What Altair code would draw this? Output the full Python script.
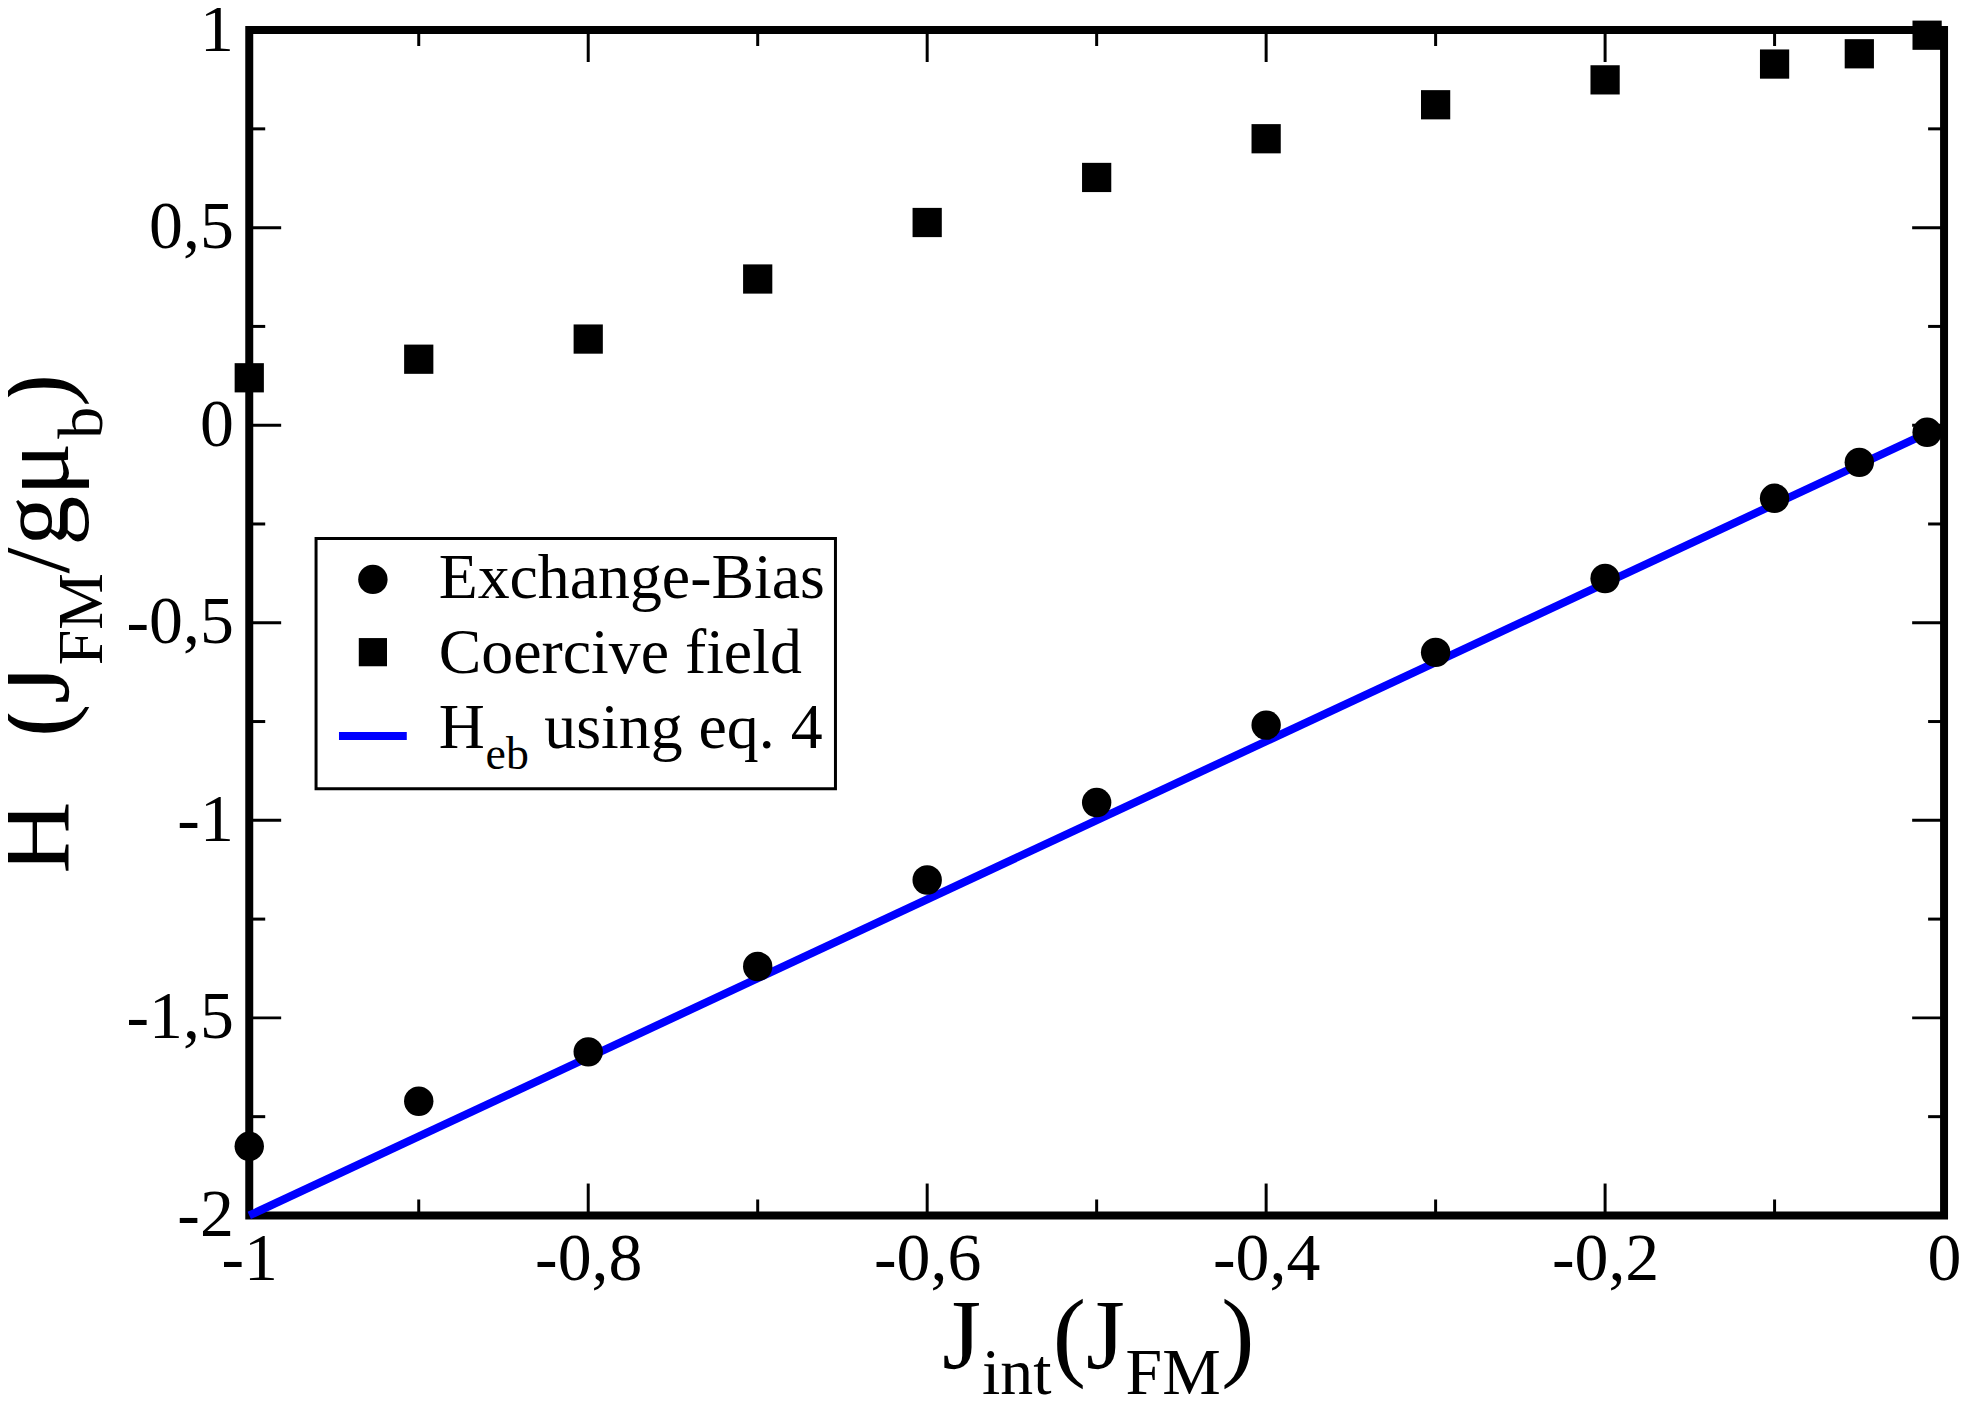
import altair as alt
import pandas as pd

# ---------------- data ----------------
j_int = [-1, -0.9, -0.8, -0.7, -0.6, -0.5, -0.4, -0.3, -0.2, -0.1, -0.05, -0.01]
exchange_bias = [-1.825, -1.711, -1.586, -1.370, -1.151, -0.955, -0.759, -0.575,
                 -0.388, -0.185, -0.094, -0.018]
coercive = [0.120, 0.167, 0.218, 0.370, 0.513, 0.627, 0.725, 0.811, 0.874,
            0.914, 0.940, 0.987]
fit_x = [-1.0, -0.01]
fit_y = [-2.0, -0.02]

x_major = [-1, -0.8, -0.6, -0.4, -0.2, 0]
x_minor = [-0.9, -0.7, -0.5, -0.3, -0.1]
y_major = [-2, -1.5, -1, -0.5, 0, 0.5, 1]
y_minor = [-1.75, -1.25, -0.75, -0.25, 0.25, 0.75]

FONT = "Liberation Serif"
W, H = 1700, 1189
MAJ, MIN = 32, 16

xscale = alt.Scale(domain=[-1, 0], nice=False, zero=False)
yscale = alt.Scale(domain=[-2, 1], nice=False, zero=False)
lab = "replace(toString(datum.value), '.', ',')"
xaxis = alt.Axis(values=x_major, labelExpr=lab, domain=False, ticks=False, grid=False,
                 title=None, labelFont=FONT, labelFontSize=68, labelPadding=10,
                 labelFlush=False, labelOverlap=False, labelColor="black")
yaxis = alt.Axis(values=y_major, labelExpr=lab, domain=False, ticks=False, grid=False,
                 title=None, labelFont=FONT, labelFontSize=68, labelPadding=16,
                 labelFlush=False, labelOverlap=False, labelColor="black")


def X(field):
    return alt.X(field, type="quantitative", scale=xscale, axis=xaxis)


def Y(field):
    return alt.Y(field, type="quantitative", scale=yscale, axis=yaxis)


df = pd.DataFrame({"x": j_int, "eb": exchange_bias, "hc": coercive})
fit = pd.DataFrame({"x": fit_x, "y": fit_y})

layers = []

# ticks (inside, on all four sides)
for vals, ln in ((y_major, MAJ), (y_minor, MIN)):
    d = pd.DataFrame({"v": vals})
    layers.append(alt.Chart(d).mark_rule(color="black", strokeWidth=3).encode(
        y=Y("v"), x=alt.value(0), x2=alt.value(ln)))
    layers.append(alt.Chart(d).mark_rule(color="black", strokeWidth=3).encode(
        y=Y("v"), x=alt.value(W - ln), x2=alt.value(W)))
for vals, ln in ((x_major, MAJ), (x_minor, MIN)):
    d = pd.DataFrame({"v": vals})
    layers.append(alt.Chart(d).mark_rule(color="black", strokeWidth=3).encode(
        x=X("v"), y=alt.value(H - ln), y2=alt.value(H)))
    layers.append(alt.Chart(d).mark_rule(color="black", strokeWidth=3).encode(
        x=X("v"), y=alt.value(0), y2=alt.value(ln)))

# fitted line
layers.append(alt.Chart(fit).mark_line(color="#0000ff", strokeWidth=8).encode(
    x=X("x"), y=Y("y")))
# exchange bias circles
layers.append(alt.Chart(df).mark_point(shape="circle", filled=True, color="black",
                                       opacity=1, size=870).encode(x=X("x"), y=Y("eb")))
# coercive field squares
layers.append(alt.Chart(df).mark_point(shape="square", filled=True, color="black",
                                       opacity=1, size=860).encode(x=X("x"), y=Y("hc")))


def txt(s, x, y, size, angle=0):
    return alt.Chart(pd.DataFrame({"t": [s]})).mark_text(
        align="left", baseline="alphabetic", font=FONT, fontSize=size,
        angle=angle, color="black").encode(x=alt.value(x), y=alt.value(y), text="t:N")


one = pd.DataFrame({"k": [0]})
# legend box
layers.append(alt.Chart(one).mark_rect(fill="white", stroke="black", strokeWidth=3).encode(
    x=alt.value(67), x2=alt.value(588), y=alt.value(510), y2=alt.value(761)))
layers.append(alt.Chart(one).mark_point(shape="circle", filled=True, color="black",
                                        opacity=1, size=870).encode(
    x=alt.value(124), y=alt.value(551)))
layers.append(alt.Chart(one).mark_point(shape="square", filled=True, color="black",
                                        opacity=1, size=800).encode(
    x=alt.value(124), y=alt.value(624)))
layers.append(alt.Chart(one).mark_rule(color="#0000ff", strokeWidth=8).encode(
    x=alt.value(90), x2=alt.value(158), y=alt.value(708)))
layers.append(txt("Exchange-Bias", 190, 570, 64))
layers.append(txt("Coercive field", 190, 645, 64))
layers.append(txt("H", 190, 720, 64))
layers.append(txt("eb", 237, 741, 46))
layers.append(txt("using eq. 4", 296, 720, 64))

# x-axis title: J_int(J_FM)
layers.append(txt("J", 695, 1342, 100))
layers.append(txt("int", 735, 1368, 66))
layers.append(txt("(J", 806, 1342, 100))
layers.append(txt("FM", 879, 1368, 66))
layers.append(txt(")", 975, 1342, 100))

# y-axis title: H (J_FM/gμ_b)
layers.append(txt("H", -182, 846, 100, angle=270))
layers.append(txt("(J", -182, 709, 100, angle=270))
layers.append(txt("FM", -148, 637, 64, angle=270))
layers.append(txt("/gμ", -182, 545, 100, angle=270))
layers.append(txt("b", -148, 410, 64, angle=270))
layers.append(txt(")", -182, 378, 100, angle=270))

chart = alt.layer(*layers).properties(
    width=W, height=H,
    autosize=alt.AutoSizeParams(type="none"),
    padding={"left": 242, "top": 20, "right": 18, "bottom": 189},
    background="white",
).configure_view(stroke="black", strokeWidth=8)

chart.save("out.html", embed_options={"renderer": "svg", "actions": False})
